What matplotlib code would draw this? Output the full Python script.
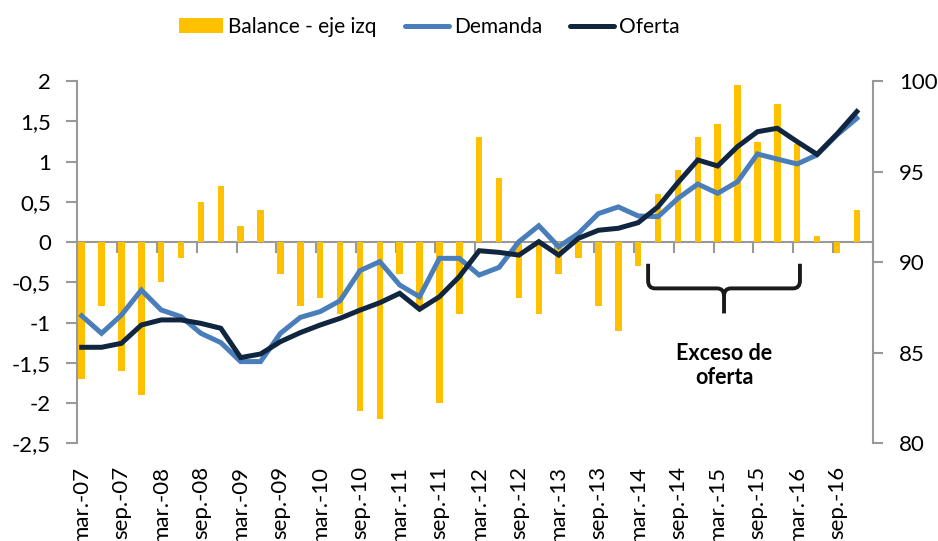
import matplotlib
matplotlib.use("Agg")
import matplotlib.pyplot as plt
import numpy as np
from matplotlib.path import Path
from matplotlib.patches import PathPatch, Patch
from matplotlib.lines import Line2D

plt.rcParams['font.family'] = ['Lato', 'DejaVu Sans']

# ---------------- data ----------------
x_labels = ['mar.-07', 'sep.-07', 'mar.-08', 'sep.-08', 'mar.-09', 'sep.-09',
            'mar.-10', 'sep.-10', 'mar.-11', 'sep.-11', 'mar.-12', 'sep.-12',
            'mar.-13', 'sep.-13', 'mar.-14', 'sep.-14', 'mar.-15', 'sep.-15',
            'mar.-16', 'sep.-16']

balance = [-1.7, -0.8, -1.6, -1.9, -0.5, -0.2, 0.5, 0.7, 0.2, 0.4,
           -0.4, -0.8, -0.7, -0.9, -2.1, -2.2, -0.4, -0.8, -2.0, -0.9,
           1.3, 0.8, -0.7, -0.9, -0.4, -0.2, -0.8, -1.1, -0.3, 0.6,
           0.9, 1.3, 1.46, 1.95, 1.24, 1.71, 1.22, 0.08, -0.14, 0.4]

demanda = [87.04, 86.07, 87.08, 88.46, 87.36, 86.99, 86.07, 85.56, 84.51, 84.51,
           86.07, 86.95, 87.27, 87.87, 89.53, 90.03, 88.74, 88.09, 90.21, 90.21,
           89.29, 89.71, 91.13, 92.01, 90.85, 91.59, 92.68, 93.05, 92.55, 92.51,
           93.52, 94.31, 93.80, 94.44, 95.97, 95.69, 95.42, 95.92, 97.02, 97.94]

oferta = [85.30, 85.30, 85.52, 86.53, 86.81, 86.81, 86.62, 86.35, 84.73, 84.93,
          85.61, 86.11, 86.53, 86.90, 87.35, 87.76, 88.28, 87.40, 88.09, 89.20,
          90.63, 90.54, 90.39, 91.13, 90.39, 91.32, 91.76, 91.87, 92.18, 93.06,
          94.39, 95.64, 95.31, 96.38, 97.20, 97.39, 96.65, 95.95, 97.07, 98.31]

left_ticks = [2, 1.5, 1, 0.5, 0, -0.5, -1, -1.5, -2, -2.5]
right_ticks = [80, 85, 90, 95, 100]

# ---------------- style ----------------
C_BAR = '#FFC000'
C_DEM = '#4A7EBB'
C_OF = '#10253F'
C_AX = '#999999'
FS = 16
FS_LEG = 15

fig = plt.figure(figsize=(9.38, 5.41), dpi=100)
ax = fig.add_axes([0.08241, 0.18059, 0.84797, 0.66969])

x = np.arange(len(balance))
ax.bar(x, balance, width=0.33, color=C_BAR, zorder=2)
ax.set_xlim(-0.22, len(balance) - 1 + 0.22)
ax.set_ylim(-2.5, 2)

# left axis
ax.set_yticks(left_ticks)
ax.set_yticklabels([('%g' % v).replace('.', ',') for v in left_ticks])
ax.tick_params(axis='y', length=8, width=1.5, color=C_AX, pad=11,
               labelsize=FS, labelcolor='black')
for s in ['top', 'right']:
    ax.spines[s].set_visible(False)
ax.spines['left'].set_color(C_AX)
ax.spines['left'].set_linewidth(1.5)
ax.spines['bottom'].set_position(('data', 0))
ax.spines['bottom'].set_color(C_AX)
ax.spines['bottom'].set_linewidth(1.5)
ax.spines['bottom'].set_zorder(1)
ax.set_xticks(np.arange(1.8, len(balance), 2))
ax.set_xticklabels([])
ax.tick_params(axis='x', length=8, width=1.5, color=C_AX, direction='out')

# category labels at bottom
sec = ax.secondary_xaxis(0)
sec.set_xticks(x[::2])
sec.set_xticklabels(x_labels, rotation=90, fontsize=FS)
sec.tick_params(axis='x', length=0, pad=16)
sec.spines['bottom'].set_visible(False)

# right axis
ax2 = ax.twinx()
ax2.plot(x, demanda, color=C_DEM, lw=3.6, solid_joinstyle='miter', zorder=3)
ax2.plot(x, oferta, color=C_OF, lw=3.6, solid_joinstyle='miter', zorder=4)
ax2.set_ylim(80, 100)
ax2.set_yticks(right_ticks)
ax2.tick_params(axis='y', length=7, width=1.5, color=C_AX, pad=12,
                labelsize=FS, labelcolor='black')
for s in ['top', 'left', 'bottom']:
    ax2.spines[s].set_visible(False)
ax2.spines['right'].set_color(C_AX)
ax2.spines['right'].set_linewidth(1.5)

# brace annotation
xl, xr, xm = 28.5, 36.14, 32.32
yt, yh, yb = -0.27, -0.576, -0.887
rx, ry = 0.35, 0.096
verts = [(xl, yt), (xl, yh + ry), (xl, yh), (xl + rx, yh), (xm - rx, yh), (xm, yh), (xm, yh - ry), (xm, yb),
         (xr, yt), (xr, yh + ry), (xr, yh), (xr - rx, yh), (xm + rx, yh), (xm, yh), (xm, yh - ry)]
codes = [Path.MOVETO, Path.LINETO, Path.CURVE3, Path.CURVE3, Path.LINETO, Path.CURVE3, Path.CURVE3, Path.LINETO,
         Path.MOVETO, Path.LINETO, Path.CURVE3, Path.CURVE3, Path.LINETO, Path.CURVE3, Path.CURVE3]
ax.add_patch(PathPatch(Path(verts, codes), facecolor='none', edgecolor='#1A1A1A', lw=2.8,
                       capstyle='butt', zorder=5))
ax.text(xm, -1.534, 'Exceso de\noferta', ha='center', va='center', fontsize=15.5,
        fontweight='bold', linespacing=1.2, color='black', zorder=5)

# legend
handles = [Patch(facecolor=C_BAR, edgecolor='none'),
           Line2D([], [], color=C_DEM, lw=3.6, solid_capstyle='round'),
           Line2D([], [], color=C_OF, lw=3.6, solid_capstyle='round')]
fig.legend(handles, ['Balance - eje izq', 'Demanda', 'Oferta'], ncol=3,
           loc='center', bbox_to_anchor=(429.5 / 938, 1 - 27 / 541),
           frameon=False, fontsize=FS_LEG, handlelength=2.1, handleheight=0.7,
           handletextpad=0.25, columnspacing=1.35, borderpad=0, borderaxespad=0)

fig.savefig('out.png', dpi=100)
